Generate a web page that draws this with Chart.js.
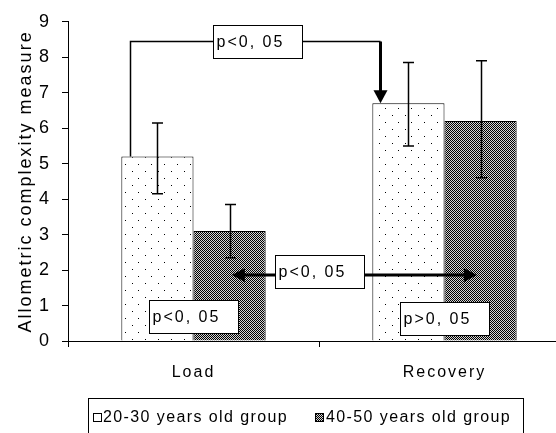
<!DOCTYPE html>
<html>
<head>
  <title>Allometric complexity measure</title>
  <script src="https://cdn.jsdelivr.net/npm/chart.js"></script>
  <style>
    body { margin: 0; background: #fff; }
    #wrap { width: 556px; height: 433px; overflow: hidden; }
  </style>
</head>
<body>
<div id="wrap"><canvas id="myChart" width="575" height="433"></canvas></div>
<script>
const categories = ['Load', 'Recovery'];
const seriesNames = ['20-30 years old group', '40-50 years old group'];
const young = [5.2, 6.7];
const youngLow = [4.15, 5.5];
const youngHigh = [6.15, 7.85];
const older = [3.1, 6.2];
const olderLow = [2.35, 4.6];
const olderHigh = [3.85, 7.9];
const yTicks = [0, 1, 2, 3, 4, 5, 6, 7, 8, 9];

// p-value boxes, in axis units (x = category index)
const notes = [
  { text: 'p<0, 05', x: 0.255, y: 8.45 },
  { text: 'p<0, 05', x: 0.5, y: 1.95 },
  { text: 'p<0, 05', x: 0, y: 0.70 },
  { text: 'p>0, 05', x: 1, y: 0.63 }
];
// bracket: Load (young) -> Recovery (young)
const bracket = { fromX: -0.253, toX: 0.743, y: 8.45 };
// double arrow between the older groups
const midArrow = { fromX: 0.153, toX: 1.129, y: 1.85 };

const FONT = '"Liberation Sans", Arial, sans-serif';
Chart.defaults.font.family = FONT;
Chart.defaults.font.size = 16;
Chart.defaults.color = '#000';

function dotPattern() {
  const c = document.createElement('canvas');
  c.width = 13; c.height = 14;
  const g = c.getContext('2d');
  g.fillStyle = '#fff';
  g.fillRect(0, 0, 13, 14);
  g.fillStyle = '#000';
  g.fillRect(2, 3, 1, 1);
  g.fillRect(8, 10, 1, 1);
  return g.createPattern(c, 'repeat');
}
function darkPattern() {
  const c = document.createElement('canvas');
  c.width = 2; c.height = 2;
  const g = c.getContext('2d');
  g.fillStyle = '#d4d4d4';
  g.fillRect(0, 0, 2, 2);
  g.fillStyle = '#000';
  g.fillRect(0, 0, 1, 1);
  g.fillRect(1, 1, 1, 1);
  return g.createPattern(c, 'repeat');
}
const fills = [dotPattern(), darkPattern()];
const errs = [[youngLow, youngHigh], [olderLow, olderHigh]];

const spacing = {
  id: 'spacing',
  beforeLayout(chart) { chart.ctx.letterSpacing = '2px'; },
  beforeDraw(chart) { chart.ctx.letterSpacing = '2px'; }
};

const errorBars = {
  id: 'errorBars',
  afterDatasetsDraw(chart) {
    const ctx = chart.ctx, y = chart.scales.y;
    ctx.save();
    ctx.strokeStyle = '#000';
    ctx.lineWidth = 1.5;
    chart.data.datasets.forEach((ds, i) => {
      chart.getDatasetMeta(i).data.forEach((bar, j) => {
        const x = Math.round(bar.x) + 0.5;
        const lo = y.getPixelForValue(errs[i][0][j]);
        const hi = y.getPixelForValue(errs[i][1][j]);
        ctx.beginPath();
        ctx.moveTo(x, lo); ctx.lineTo(x, hi);
        ctx.moveTo(x - 5.5, lo); ctx.lineTo(x + 5.5, lo);
        ctx.moveTo(x - 5.5, hi); ctx.lineTo(x + 5.5, hi);
        ctx.stroke();
      });
    });
    ctx.restore();
  }
};

function head(ctx, tx, ty, dir) {
  // dir: 'down', 'left', 'right'
  ctx.beginPath();
  if (dir === 'down') {
    ctx.moveTo(tx, ty); ctx.lineTo(tx - 7, ty - 13); ctx.lineTo(tx + 7, ty - 13);
  } else if (dir === 'left') {
    ctx.moveTo(tx, ty); ctx.lineTo(tx + 13, ty - 7); ctx.lineTo(tx + 13, ty + 7);
  } else {
    ctx.moveTo(tx, ty); ctx.lineTo(tx - 13, ty - 7); ctx.lineTo(tx - 13, ty + 7);
  }
  ctx.closePath();
  ctx.fill();
}

const BOX_W = 89, BOX_H = 33;
function boxRect(xs, ys, n) {
  const cx = xs.getPixelForValue(n.x), cy = ys.getPixelForValue(n.y);
  return { l: Math.round(cx - BOX_W / 2) + 0.5, t: Math.round(cy - BOX_H / 2) + 0.5 };
}

const annotations = {
  id: 'annotations',
  afterDraw(chart) {
    const ctx = chart.ctx, xs = chart.scales.x, ys = chart.scales.y;
    ctx.save();
    ctx.strokeStyle = '#000';
    ctx.fillStyle = '#000';

    // top bracket
    const b0 = boxRect(xs, ys, notes[0]);
    const by = Math.round(ys.getPixelForValue(bracket.y)) + 0.5;
    const x1 = Math.round(xs.getPixelForValue(bracket.fromX)) + 0.5;
    const x2 = Math.round(xs.getPixelForValue(bracket.toX)) + 0.5;
    const tip = ys.getPixelForValue(young[1]);
    ctx.lineWidth = 1.5;
    ctx.beginPath();
    ctx.moveTo(x1, ys.getPixelForValue(young[0]));
    ctx.lineTo(x1, by);
    ctx.lineTo(b0.l, by);
    ctx.moveTo(b0.l + BOX_W, by);
    ctx.lineTo(x2, by);
    ctx.stroke();
    ctx.lineWidth = 3;
    ctx.beginPath();
    ctx.moveTo(x2, by);
    ctx.lineTo(x2, tip - 12);
    ctx.stroke();
    head(ctx, x2, tip, 'down');

    // middle double arrow
    const b1 = boxRect(xs, ys, notes[1]);
    const my = Math.round(ys.getPixelForValue(midArrow.y));
    const l = xs.getPixelForValue(midArrow.fromX);
    const r = xs.getPixelForValue(midArrow.toX);
    ctx.lineWidth = 3;
    ctx.beginPath();
    ctx.moveTo(l + 12, my); ctx.lineTo(b1.l, my);
    ctx.moveTo(b1.l + BOX_W, my); ctx.lineTo(r - 12, my);
    ctx.stroke();
    head(ctx, l, my, 'left');
    head(ctx, r, my, 'right');

    // boxes
    ctx.lineWidth = 1;
    ctx.font = '16px ' + FONT;
    ctx.textBaseline = 'middle';
    ctx.textAlign = 'left';
    notes.forEach(n => {
      const b = boxRect(xs, ys, n);
      ctx.fillStyle = '#fff';
      ctx.fillRect(b.l, b.t, BOX_W, BOX_H);
      ctx.strokeRect(b.l, b.t, BOX_W, BOX_H);
      ctx.fillStyle = '#000';
      ctx.fillText(n.text, b.l + 3, b.t + BOX_H / 2 + 1);
    });

    // legend
    ctx.letterSpacing = '1.4px';
    const ly = 398.5;
    ctx.strokeRect(88.5, ly, 435, 40);
    const items = [{ x: 93, tx: 103 }, { x: 315, tx: 326 }];
    items.forEach((it, i) => {
      ctx.fillStyle = i === 0 ? '#fff' : fills[1];
      ctx.fillRect(it.x, 413, 9, 9);
      ctx.strokeRect(it.x + 0.5, 413.5, 8, 8);
      ctx.fillStyle = '#000';
      ctx.fillText(chart.data.datasets[i].label, it.tx, 418);
    });
    ctx.restore();
  }
};

new Chart(document.getElementById('myChart'), {
  type: 'bar',
  data: {
    labels: categories,
    datasets: [
      { label: seriesNames[0], data: young, backgroundColor: fills[0], borderColor: '#000', borderWidth: 1 },
      { label: seriesNames[1], data: older, backgroundColor: fills[1], borderColor: '#000', borderWidth: 1 }
    ]
  },
  options: {
    responsive: false,
    devicePixelRatio: 1,
    animation: false,
    datasets: { bar: { categoryPercentage: 0.575, barPercentage: 1 } },
    layout: { padding: { top: 20, right: 5, left: 0, bottom: 0 } },
    plugins: { legend: { display: false }, tooltip: { enabled: false } },
    scales: {
      x: {
        grid: { drawOnChartArea: false, tickLength: 6, color: '#000' },
        border: { color: '#000', width: 1 },
        ticks: { padding: 16, font: { size: 16 } },
        afterFit(s) { s.height = 92; }
      },
      y: {
        min: 0,
        max: 9,
        afterBuildTicks(s) { s.ticks = yTicks.map(v => ({ value: v })); },
        grid: { drawOnChartArea: false, tickLength: 6, color: '#000' },
        border: { color: '#000', width: 1 },
        ticks: { padding: 11, font: { size: 18 } },
        title: { display: true, text: 'Allometric complexity measure', font: { size: 18 }, padding: { top: 15, bottom: 0 } },
        afterFit(s) { s.width = 68; }
      }
    }
  },
  plugins: [spacing, errorBars, annotations]
});
</script>
</body>
</html>
